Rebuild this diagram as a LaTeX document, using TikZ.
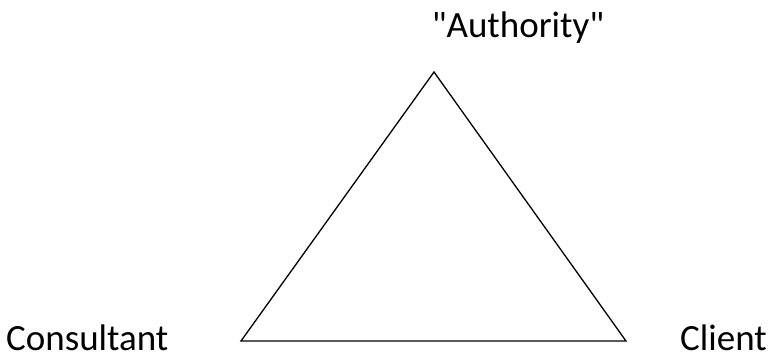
\documentclass[tikz,border=0pt]{standalone}
\usepackage{fontspec}
\setmainfont{Carlito}[Ligatures=TeXOff]
\begin{document}
\begin{tikzpicture}[x=1pt,y=1pt,
  lbl/.style={inner sep=0pt,text depth=0pt,font=\fontsize{37}{44}\selectfont}]
\useasboundingbox (0,0) rectangle (772,-356);
\coordinate (top) at (434,-72);
\coordinate (bl) at (241,-341);
\coordinate (br) at (626,-341);
\draw[line width=1.3pt,line join=miter] (top) -- (bl) -- (br) -- cycle;
\node[lbl,anchor=base] (auth) at (518,-37) {"Authority"};
\node[lbl,anchor=base west] (cons) at (6,-350) {Consultant};
\node[lbl,anchor=base west] (cli) at (680,-350) {Client};
\end{tikzpicture}
\end{document}
